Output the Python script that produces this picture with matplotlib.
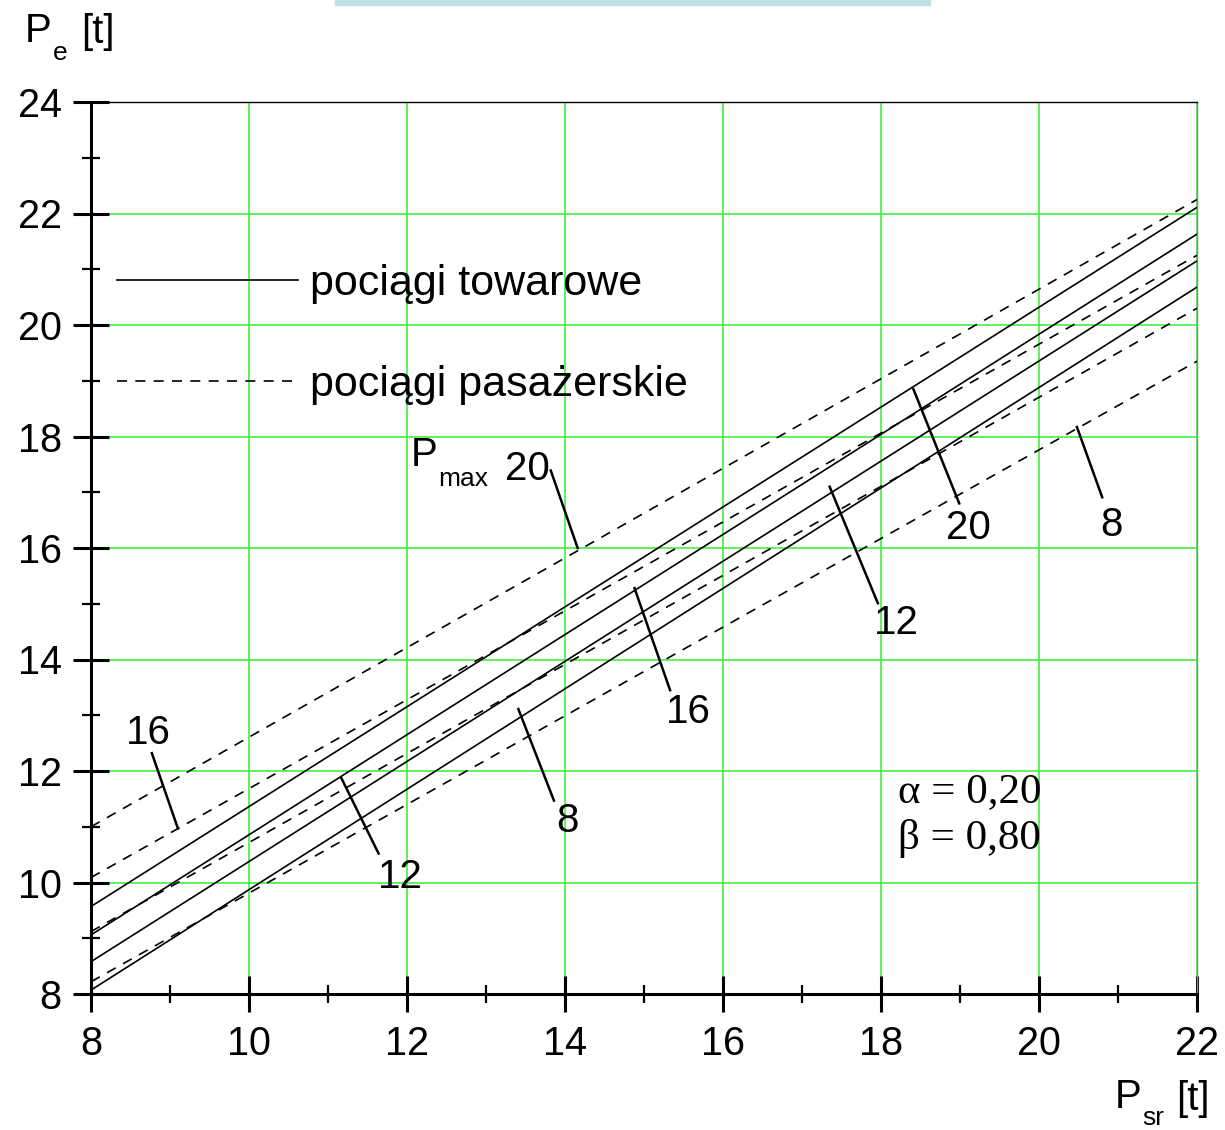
import matplotlib
matplotlib.use("Agg")
import matplotlib.pyplot as plt
from matplotlib.lines import Line2D
from matplotlib.patches import Rectangle

plt.rcParams['font.family'] = ['Liberation Sans', 'DejaVu Sans']

# P_sr [t] - ends of every line
psr = [8, 22]

# pociagi towarowe (solid), Pmax = 20, 16, 12, 8
tow_20 = [9.57, 22.11]
tow_16 = [9.06, 21.63]
tow_12 = [8.58, 21.15]
tow_8 = [8.07, 20.68]

# pociagi pasazerskie (dashed), Pmax = 20, 16, 12, 8
pas_20 = [11.0, 22.25]
pas_16 = [10.09, 21.25]
pas_12 = [9.12, 20.30]
pas_8 = [8.22, 19.35]

x_major = list(range(8, 23, 2))
x_minor = list(range(9, 22, 2))
y_major = list(range(8, 25, 2))
y_minor = list(range(9, 24, 2))

leg_labels = ['pociągi towarowe', 'pociągi pasażerskie']

# curve labels: text, text position, leader from, leader to
curve_labels = [
    ('16', (8.72, 12.68), (8.77, 12.32), (9.10, 10.97)),
    ('20', (13.53, 17.42), (13.82, 17.39), (14.16, 16.00)),
    ('20', (19.11, 16.35), (18.41, 18.85), (18.99, 16.80)),
    ('8', (20.92, 16.42), (20.48, 18.17), (20.80, 16.91)),
    ('12', (18.19, 14.65), (17.35, 17.10), (17.96, 15.01)),
    ('16', (15.56, 13.06), (14.88, 15.28), (15.33, 13.45)),
    ('8', (14.03, 11.11), (13.41, 13.11), (13.86, 11.47)),
    ('12', (11.92, 10.09), (11.17, 11.87), (11.64, 10.52)),
]

green = '#33ee33'
fs = 29
serif = ['Liberation Serif', 'DejaVu Serif']

fig = plt.figure(figsize=(12.25, 11.3), dpi=100)
ax = fig.add_axes([91/1225, 1 - 994/1130, (1197-91)/1225, (994-102)/1130])

for y in [tow_20, tow_16, tow_12, tow_8]:
    ax.plot(psr, y, color='black', lw=1.2, zorder=3)
for y in [pas_20, pas_16, pas_12, pas_8]:
    ax.plot(psr, y, color='black', lw=1.2, dashes=(6, 5), zorder=3)

for txt, tpos, p0, p1 in curve_labels:
    ax.plot([p0[0], p1[0]], [p0[1], p1[1]], color='black', lw=1.8, zorder=3)
    ax.text(tpos[0], tpos[1], txt, fontsize=fs, ha='center', va='center', zorder=4)

# P_max label in front of "20"
ax.text(12.05, 17.67, 'P', fontsize=fs, ha='left', va='center')
ax.text(12.39, 17.24, 'max', fontsize=19, ha='left', va='center')

ax.text(18.215, 11.63, 'α = 0,20', fontsize=31, ha='left', va='center', family=serif)
ax.text(18.215, 10.79, 'β = 0,80', fontsize=31, ha='left', va='center', family=serif)

handles = [Line2D([], [], color='black', lw=1.2),
           Line2D([], [], color='black', lw=1.2, dashes=(6, 5))]
ax.legend(handles, leg_labels, loc='upper left', bbox_to_anchor=(0.0235, 0.818),
          frameon=False, fontsize=31, handlelength=4.2, handletextpad=0.28,
          labelspacing=1.40, borderpad=0, borderaxespad=0)

ax.set_xlim(8, 22)
ax.set_ylim(8, 24)
ax.set_xticks(x_major)
ax.set_xticks(x_minor, minor=True)
ax.set_yticks(y_major)
ax.set_yticks(y_minor, minor=True)
ax.grid(which='major', color=green, lw=1.1)
ax.tick_params(which='major', direction='inout', length=26, width=2.2, labelsize=28.5)
ax.tick_params(which='minor', direction='inout', length=13, width=1.6)
ax.tick_params(axis='x', which='major', pad=9)
ax.tick_params(axis='y', which='major', pad=8)

ax.spines['left'].set_linewidth(2.2)
ax.spines['bottom'].set_linewidth(2.2)
ax.spines['top'].set_linewidth(1.0)
ax.spines['right'].set_linewidth(1.0)
ax.spines['right'].set_color('#888888')

# axis titles
fig.text(25/1225, 1 - 42/1130, 'P', fontsize=fs, ha='left', va='baseline')
fig.text(53/1225, 1 - 60/1130, 'e', fontsize=19, ha='left', va='baseline')
fig.text(81/1225, 1 - 43/1130, '[t]', fontsize=fs, ha='left', va='baseline')
fig.text(1115/1225, 1 - 1108/1130, 'P', fontsize=fs, ha='left', va='baseline')
fig.text(1142/1225, 1 - 1125/1130, 'sr', fontsize=19, ha='left', va='baseline')
fig.text(1176/1225, 1 - 1110/1130, '[t]', fontsize=fs, ha='left', va='baseline')

fig.patches.append(Rectangle((335/1225, 1 - 5/1130), (930-335)/1225, 5/1130,
                             transform=fig.transFigure, color='#bde0e5'))

fig.savefig('out.png', dpi=100)
